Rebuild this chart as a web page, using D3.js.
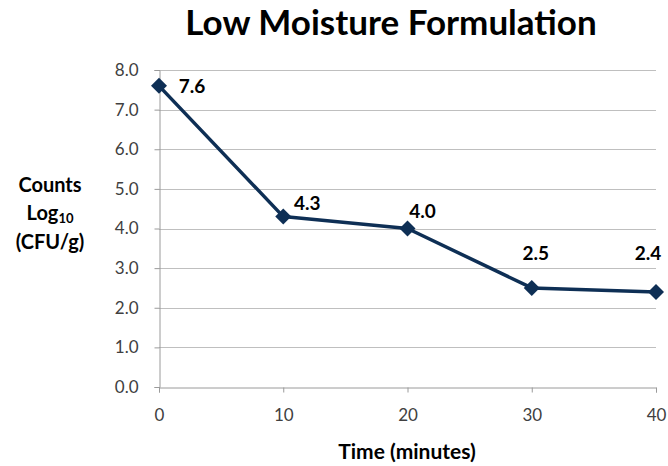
<!DOCTYPE html>
<html>
<head>
<meta charset="utf-8">
<script src="https://cdn.jsdelivr.net/npm/d3@7"></script>
<style>
  html, body { margin: 0; padding: 0; background: #fff; }
  svg { display: block; }
  text { font-family: Lato, "Open Sans", sans-serif; }
</style>
</head>
<body>
<svg id="chart" width="668" height="466"></svg>
<script>
// Survival counts over time
const times = [0, 10, 20, 30, 40];
const counts = [7.6, 4.3, 4.0, 2.5, 2.4];
const xTicks = [0, 10, 20, 30, 40];
const yTicks = [0, 1, 2, 3, 4, 5, 6, 7, 8];
// label offsets (dx, dy) from each point
const labelOffsets = [[33, 7], [24, -7], [15, -11], [4, -28], [-8, -32]];

const svg = d3.select("#chart");
const W = 668, H = 466;
const m = { left: 159, right: 12, top: 70, bottom: 79 };

const x = d3.scaleLinear().domain([0, 40]).range([m.left, W - m.right]);
const y = d3.scaleLinear().domain([0, 8]).range([H - m.bottom, m.top]);

// horizontal gridlines
svg.append("g").selectAll("line")
  .data(yTicks.filter(d => d > 0))
  .join("line")
  .attr("x1", x(0)).attr("x2", x(40))
  .attr("y1", d => Math.round(y(d)) + 0.5).attr("y2", d => Math.round(y(d)) + 0.5)
  .attr("stroke", "#bfbfbf").attr("stroke-width", 1);

// y axis
const yAxis = svg.append("g")
  .attr("transform", `translate(${Math.round(x(0)) + 0.5},0)`)
  .call(d3.axisLeft(y).tickValues(yTicks).tickFormat(d3.format(".1f")).tickSize(5).tickPadding(16));
yAxis.select(".domain").attr("stroke", "#9a9a9a");
yAxis.selectAll(".tick line").attr("stroke", "#9a9a9a");
yAxis.selectAll(".tick text").attr("fill", "#404040").style("font-size", "17px")
  .style("font-family", "Lato, sans-serif");

// x axis
const xAxis = svg.append("g")
  .attr("transform", `translate(0,${Math.round(y(0)) + 0.5})`)
  .call(d3.axisBottom(x).tickValues(xTicks).tickFormat(d3.format("d")).tickSize(5).tickPadding(16));
xAxis.select(".domain").attr("stroke", "#9a9a9a");
xAxis.selectAll(".tick line").attr("stroke", "#9a9a9a");
xAxis.selectAll(".tick text").attr("fill", "#404040").style("font-size", "17px")
  .style("font-family", "Lato, sans-serif");

// series line
const pts = times.map((t, i) => [t, counts[i]]);
svg.append("path")
  .datum(pts)
  .attr("fill", "none")
  .attr("stroke", "#0e2f55")
  .attr("stroke-width", 3.5)
  .attr("stroke-linejoin", "round")
  .attr("d", d3.line().x(d => x(d[0])).y(d => y(d[1])));

// diamond markers
svg.append("g").selectAll("path")
  .data(pts)
  .join("path")
  .attr("transform", d => `translate(${x(d[0])},${y(d[1])})`)
  .attr("d", "M0,-8L8,0L0,8L-8,0Z")
  .attr("fill", "#0e2f55");

// value labels
svg.append("g").selectAll("text")
  .data(pts)
  .join("text")
  .attr("x", (d, i) => x(d[0]) + labelOffsets[i][0])
  .attr("y", (d, i) => y(d[1]) + labelOffsets[i][1])
  .attr("text-anchor", "middle")
  .style("font-size", "19px").style("font-weight", "bold")
  .attr("fill", "#000")
  .text(d => d[1].toFixed(1));

// title
svg.append("text")
  .attr("x", 391).attr("y", 35)
  .attr("text-anchor", "middle")
  .style("font-size", "35px").style("font-weight", "bold")
  .text("Low Moisture Formulation");

// x axis title
svg.append("text")
  .attr("x", 407).attr("y", 459)
  .attr("text-anchor", "middle")
  .style("font-size", "21px").style("font-weight", "bold")
  .text("Time (minutes)");

// y axis title
const yt = svg.append("text")
  .attr("text-anchor", "middle")
  .style("font-size", "20px").style("font-weight", "bold");
yt.append("tspan").attr("x", 50).attr("y", 192).text("Counts");
const l2 = yt.append("tspan").attr("x", 50).attr("y", 220);
l2.append("tspan").text("Log");
l2.append("tspan").style("font-size", "13px").attr("dy", 3).text("10");
yt.append("tspan").attr("x", 50).attr("y", 249).text("(CFU/g)");
</script>
</body>
</html>
